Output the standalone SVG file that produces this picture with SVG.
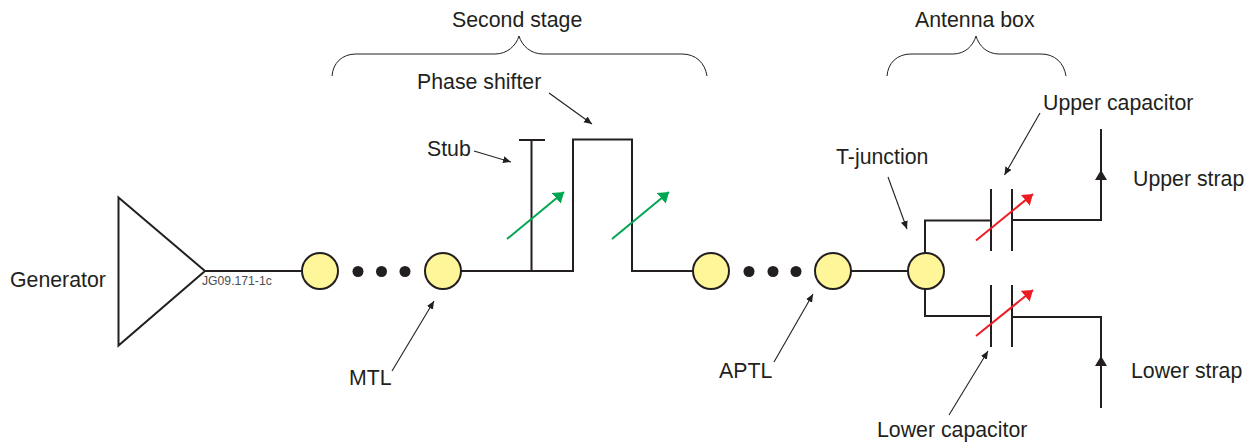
<svg xmlns="http://www.w3.org/2000/svg" width="1257" height="448" viewBox="0 0 1257 448">
<defs>
<marker id="blk" markerUnits="userSpaceOnUse" markerWidth="10" markerHeight="8" refX="8" refY="3.500" orient="auto"><path d="M0 0L8 3.500L0 7Z" fill="#231f20"/></marker>
<marker id="grn" markerUnits="userSpaceOnUse" markerWidth="12" markerHeight="14" refX="10" refY="7" orient="auto"><path d="M0 0L10 7L0 14Z" fill="#00a651"/></marker>
<marker id="red" markerUnits="userSpaceOnUse" markerWidth="12" markerHeight="14" refX="10" refY="7" orient="auto"><path d="M0 0L10 7L0 14Z" fill="#ed1c24"/></marker>
</defs>
<style>
text{font-family:"Liberation Sans",Arial,sans-serif;font-size:21.300px;fill:#231f20}
.w{fill:none;stroke:#231f20;stroke-width:2}
.b{fill:none;stroke:#231f20;stroke-width:1}
.a{fill:none;stroke:#231f20;stroke-width:1.100;marker-end:url(#blk)}
.g{fill:none;stroke:#00a651;stroke-width:2;marker-end:url(#grn)}
.r{fill:none;stroke:#ed1c24;stroke-width:2;marker-end:url(#red)}
.n{fill:#fff599;stroke:#231f20;stroke-width:2}
.d{fill:#231f20}
</style>
<g id="connectors">
<path class="w" d="M205 271H302"/>
<path class="w" d="M461 271H573V139.500H632V271H693"/>
<path class="w" d="M519 140H545M531.500 140V271"/>
<path class="w" d="M851 271H908"/>
<path class="w" d="M925 253V220.500H991M1012 220H1101V129"/>
<path class="w" d="M925 289V316H991M1012 317H1101V408"/>
<path class="w" d="M991 189V251M1012 189V251M991 285V347M1012 285V347"/>
<path d="M1101 170L1107 180H1095Z" class="d"/>
<path d="M1101 356L1107 366H1095Z" class="d"/>
<path class="g" d="M507 239L564 192"/>
<path class="g" d="M612 239L669 192"/>
<path class="r" d="M976 240.500L1033 194"/>
<path class="r" d="M976 336L1033 290"/>
<path class="a" d="M549 93L592 124"/>
<path class="a" d="M474 151L511 162"/>
<path class="a" d="M392 371L434 301"/>
<path class="a" d="M774 362L813 294"/>
<path class="a" d="M888 177L907 229"/>
<path class="a" d="M1040 113L1004.500 175"/>
<path class="a" d="M949 415L988 351"/>
<path class="b" d="M332 76C333 63 342 54 356 54H495C507 54 516 46 519 36C522 46 531 54 543 54H682C696 54 705 63 707 76"/>
<path class="b" d="M887 76C888 63 897 54 911 54H953C965 54 973 46 976 36C979 46 987 54 999 54H1041C1055 54 1064 63 1066 76"/>
</g>
<g id="generator"><path class="w" d="M118.500 197.500L205 271L118.500 345.500Z"/><text x="10" y="287">Generator</text></g>
<g id="node-1"><circle class="n" cx="320" cy="271" r="18"/></g>
<g id="node-2"><circle class="n" cx="443" cy="271" r="18"/></g>
<g id="node-3"><circle class="n" cx="711" cy="271" r="18"/></g>
<g id="node-4"><circle class="n" cx="833" cy="271" r="18"/></g>
<g id="t-junction"><circle class="n" cx="926" cy="271" r="18"/><text x="836" y="164">T-junction</text></g>
<g id="dots-1"><circle class="d" cx="358" cy="271.500" r="5.500"/><circle class="d" cx="381.500" cy="271.500" r="5.500"/><circle class="d" cx="405" cy="271.500" r="5.500"/></g>
<g id="dots-2"><circle class="d" cx="749" cy="271.500" r="5.500"/><circle class="d" cx="773" cy="271.500" r="5.500"/><circle class="d" cx="796" cy="271.500" r="5.500"/></g>
<g id="labels">
<text x="202" y="285" style="font-size:12.200px;fill:#4d4d4f">JG09.171-1c</text>
<text x="452" y="27">Second stage</text>
<text x="915" y="27">Antenna box</text>
<text x="417" y="89">Phase shifter</text>
<text x="427" y="156">Stub</text>
<text x="1043" y="110">Upper capacitor</text>
<text x="1133" y="186">Upper strap</text>
<text x="1131" y="378">Lower strap</text>
<text x="349" y="385">MTL</text>
<text x="719" y="378">APTL</text>
<text x="877" y="437">Lower capacitor</text>
</g>
</svg>
